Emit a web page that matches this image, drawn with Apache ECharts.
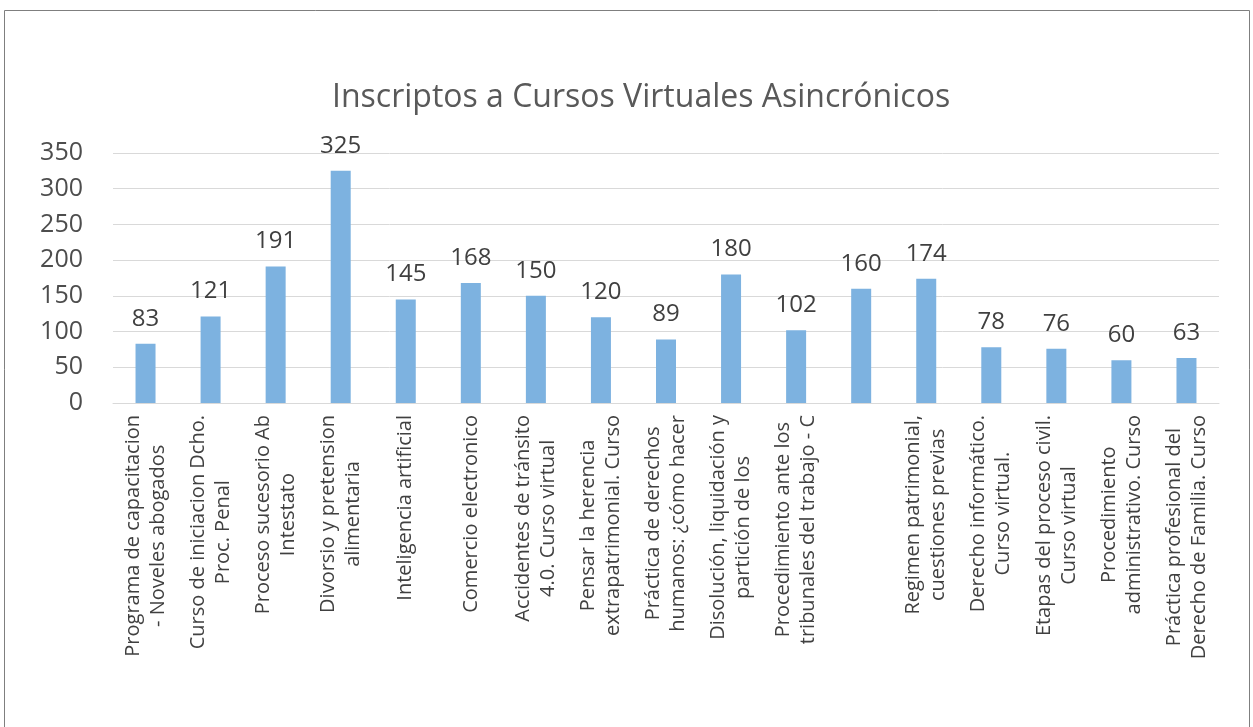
<!DOCTYPE html>
<html>
<head>
<meta charset="utf-8">
<script src="https://cdn.jsdelivr.net/npm/echarts@6/dist/echarts.min.js"></script>
<style>
  html, body { margin: 0; padding: 0; background: #fff; }
  #container { width: 1253px; height: 727px; }
</style>
</head>
<body>
<div id="container"></div>
<script>
var cursos = [
    'Programa de capacitacion\n- Noveles abogados',
    'Curso de iniciacion Dcho.\nProc. Penal',
    'Proceso sucesorio Ab\nIntestato',
    'Divorsio y pretension\nalimentaria',
    'Inteligencia artificial',
    'Comercio electronico',
    'Accidentes de tránsito\n4.0. Curso virtual',
    'Pensar la herencia\nextrapatrimonial. Curso',
    'Práctica de derechos\nhumanos: ¿cómo hacer',
    'Disolución, liquidación y\npartición de los',
    'Procedimiento ante los\ntribunales del trabajo - C',
    '',
    'Regimen patrimonial,\ncuestiones previas',
    'Derecho informático.\nCurso virtual.',
    'Etapas del proceso civil.\nCurso virtual',
    'Procedimiento\nadministrativo. Curso',
    'Práctica profesional del\nDerecho de Familia. Curso'
];
var inscriptos = [83, 121, 191, 325, 145, 168, 150, 120, 89, 180, 102, 160, 174, 78, 76, 60, 63];
var yTicks = [0, 50, 100, 150, 200, 250, 300, 350];

var dom = document.getElementById('container');
var myChart = echarts.init(dom);
var fuente = '"Open Sans", "Liberation Sans", sans-serif';

var option = {
    backgroundColor: '#fff',
    animation: false,
    graphic: [{
        type: 'rect',
        shape: { x: 4.5, y: 10.5, width: 1245, height: 730 },
        style: { fill: 'none', stroke: '#7f7f7f', lineWidth: 1 }
    }],
    title: {
        text: 'Inscriptos a Cursos Virtuales Asincrónicos',
        left: 327,
        top: 77,
        textStyle: {
            fontFamily: fuente,
            fontSize: 32,
            fontWeight: 'normal',
            color: '#595959'
        }
    },
    grid: {
        left: 113,
        right: 34,
        top: 153,
        height: 250,
        containLabel: false
    },
    xAxis: {
        type: 'category',
        data: cursos,
        axisLine: { show: true, lineStyle: { color: '#d9d9d9' } },
        axisTick: { show: false },
        axisLabel: {
            interval: 0,
            rotate: 90,
            margin: 12,
            fontFamily: fuente,
            fontSize: 20,
            lineHeight: 25,
            color: '#404040',
            formatter: function (v) {
                //cada linea centrada respecto a la otra
                return v.split('\n').map(function (s) { return '{c|' + s + '}'; }).join('\n');
            },
            rich: {
                c: {
                    align: 'center',
                    fontFamily: fuente,
                    fontSize: 20,
                    lineHeight: 25,
                    color: '#404040'
                }
            }
        }
    },
    yAxis: {
        type: 'value',
        min: yTicks[0],
        max: yTicks[yTicks.length - 1],
        interval: 50,
        axisLine: { show: false },
        axisTick: { show: false },
        axisLabel: {
            margin: 30,
            fontFamily: fuente,
            fontSize: 25,
            color: '#4d4d4d'
        },
        splitLine: { lineStyle: { color: '#d9d9d9', width: 1 } }
    },
    series: [{
        name: 'Inscriptos',
        type: 'bar',
        data: inscriptos,
        barWidth: 20,
        itemStyle: { color: '#7db2e0' },
        label: {
            show: true,
            position: 'top',
            distance: 13,
            fontFamily: fuente,
            fontSize: 24,
            color: '#404040'
        }
    }]
};

if (option && typeof option === "object") {
    myChart.setOption(option, true);
}
</script>
</body>
</html>
